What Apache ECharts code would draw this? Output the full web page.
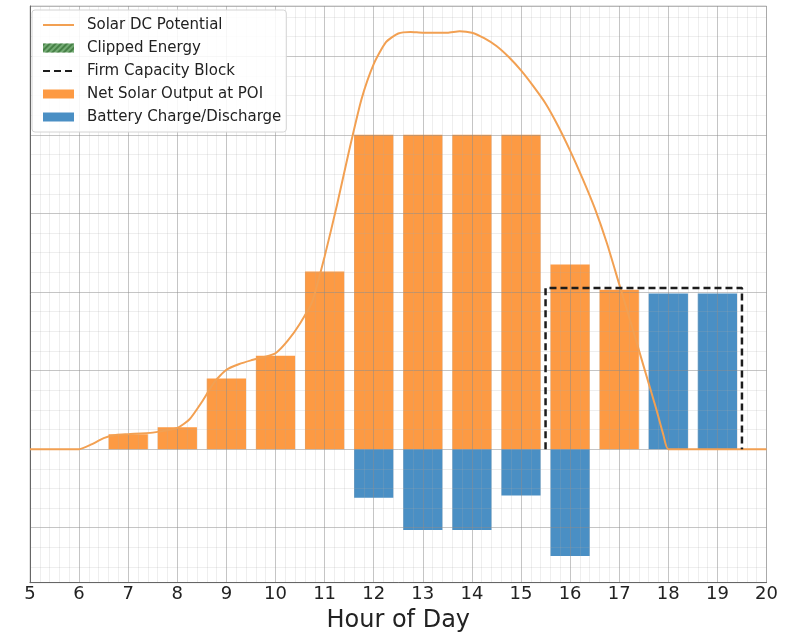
<!DOCTYPE html>
<html>
<head>
<meta charset="utf-8">
<script src="https://cdn.jsdelivr.net/npm/echarts@6/dist/echarts.min.js"></script>
<style>
  html, body { margin: 0; padding: 0; background: #ffffff; }
  #chart { width: 795px; height: 634px; }
</style>
</head>
<body>
<div id="chart"></div>
<script>
// Hour-of-day axis range
const hourTicks = [5, 6, 7, 8, 9, 10, 11, 12, 13, 14, 15, 16, 17, 18, 19, 20];

// Solar DC potential profile (hour, power in block units)
const solarHours  = [5.0, 5.5, 6.0, 6.25, 6.5, 6.75, 7.0, 7.5, 8.0, 8.25, 8.5, 8.75, 9.0, 9.25, 9.5, 9.75,
                     10.0, 10.25, 10.5, 10.75, 11.0, 11.25, 11.5, 11.75, 12.0, 12.25, 12.5, 12.75, 13.0,
                     13.5, 13.75, 14.0, 14.25, 14.5, 14.75, 15.0, 15.25, 15.5, 15.75, 16.0, 16.25, 16.5,
                     16.75, 17.0, 17.25, 17.5, 17.75, 17.9, 18.0, 18.5, 19.0, 19.5, 20.0];
const solarValues = [0, 0, 0, 0.06, 0.14, 0.18, 0.19, 0.21, 0.27, 0.38, 0.60, 0.85, 1.01, 1.08, 1.13, 1.17,
                     1.22, 1.38, 1.60, 1.88, 2.45, 3.10, 3.80, 4.45, 4.90, 5.18, 5.29, 5.31, 5.30,
                     5.30, 5.32, 5.30, 5.23, 5.13, 4.99, 4.82, 4.62, 4.40, 4.12, 3.80, 3.45, 3.07,
                     2.62, 2.10, 1.58, 1.05, 0.52, 0.18, 0, 0, 0, 0, 0];

// Net solar output delivered at the point of interconnection
const netHours  = [7, 8, 9, 10, 11, 12, 13, 14, 15, 16, 17];
const netValues = [0.19, 0.28, 0.90, 1.19, 2.26, 4.0, 4.0, 4.0, 4.0, 2.35, 2.03];

// Battery: negative = charging, positive = discharging
const batteryHours  = [12, 13, 14, 15, 16, 18, 19];
const batteryValues = [-0.62, -1.03, -1.03, -0.59, -1.36, 1.98, 1.98];

// Firm capacity block outline
const firmHours  = [15.5, 15.5, 19.5, 19.5];
const firmValues = [0, 2.05, 2.05, 0];

// Clipped energy (none in this profile)
const clippedHours = [];
const clippedValues = [];

const BAR_HALF = 0.4;
const zip = (xs, ys) => xs.map((x, i) => [x, ys[i]]);

function renderBar(params, api) {
  const x = api.value(0);
  const v = api.value(1);
  const a = api.coord([x - BAR_HALF, 0]);
  const b = api.coord([x + BAR_HALF, v]);
  return {
    type: 'rect',
    shape: {
      x: a[0],
      y: Math.min(a[1], b[1]),
      width: b[0] - a[0],
      height: Math.abs(b[1] - a[1])
    },
    style: api.style()
  };
}

const FONT = 'DejaVu Sans';
const majorGrid = { show: true, lineStyle: { color: 'rgba(140,140,140,0.5)', width: 1 } };
const minorGrid = { show: true, lineStyle: { color: 'rgba(170,170,170,0.2)', width: 1 } };

const chart = echarts.init(document.getElementById('chart'), null, { renderer: 'canvas' });
chart.setOption({
  backgroundColor: '#ffffff',
  animation: false,
  grid: {
    left: 30, right: 28.5, top: 6, bottom: 51.3,
    show: true, borderColor: '#c8c8c8', borderWidth: 1,
    containLabel: false, outerBoundsMode: 'none'
  },
  legend: {
    orient: 'vertical', left: 32, top: 10,
    itemWidth: 31, itemHeight: 9, itemGap: 7,
    padding: [7, 5, 7, 10],
    backgroundColor: 'rgba(255,255,255,0.85)',
    borderColor: '#d4d4d4', borderWidth: 1, borderRadius: 3,
    selectedMode: false,
    textStyle: { fontFamily: FONT, fontSize: 15, color: '#222', lineHeight: 16, padding: [0, 0, 0, 8] },
    data: [
      { name: 'Solar DC Potential', itemStyle: { opacity: 0 } },
      { name: 'Clipped Energy', icon: 'rect' },
      { name: 'Firm Capacity Block', itemStyle: { opacity: 0 } },
      { name: 'Net Solar Output at POI', icon: 'rect' },
      { name: 'Battery Charge/Discharge', icon: 'rect' }
    ]
  },
  xAxis: {
    type: 'value',
    min: hourTicks[0], max: hourTicks[hourTicks.length - 1], interval: 1,
    z: 3,
    name: 'Hour of Day', nameLocation: 'middle', nameGap: 23,
    nameTextStyle: { fontFamily: FONT, fontSize: 24, color: '#222', verticalAlign: 'top' },
    axisLine: { show: true, onZero: false, lineStyle: { color: '#666', width: 1 } },
    axisTick: { show: false },
    minorTick: { show: false, splitNumber: 5 },
    axisLabel: { fontFamily: FONT, fontSize: 18, color: '#222', margin: 3 },
    splitLine: majorGrid,
    minorSplitLine: minorGrid
  },
  yAxis: {
    type: 'value',
    min: -1.7, max: 5.64, minInterval: 1, maxInterval: 1, splitNumber: 7,
    z: 3,
    axisLine: { show: true, lineStyle: { color: '#666', width: 1 } },
    axisTick: { show: false },
    axisLabel: { show: false },
    minorTick: { show: false, splitNumber: 4 },
    splitLine: majorGrid,
    minorSplitLine: minorGrid
  },
  series: [
    {
      name: 'Net Solar Output at POI',
      type: 'custom',
      renderItem: renderBar,
      itemStyle: { color: '#fd9a43' },
      encode: { x: 0, y: 1 },
      data: zip(netHours, netValues),
      z: 2
    },
    {
      name: 'Battery Charge/Discharge',
      type: 'custom',
      renderItem: renderBar,
      itemStyle: { color: '#4a8fc4' },
      encode: { x: 0, y: 1 },
      data: zip(batteryHours, batteryValues),
      z: 2
    },
    {
      name: 'Clipped Energy',
      type: 'bar',
      data: zip(clippedHours, clippedValues),
      itemStyle: {
        color: '#74ab74',
        decal: {
          symbol: 'rect', symbolSize: 1,
          dashArrayX: [1, 0], dashArrayY: [2, 2],
          rotation: -Math.PI / 4, color: 'rgba(40,100,40,0.6)'
        }
      }
    },
    {
      name: 'Solar DC Potential',
      type: 'line',
      data: zip(solarHours, solarValues),
      smooth: 0.2,
      symbol: 'none',
      lineStyle: { color: '#f2a052', width: 2 },
      itemStyle: { color: '#f2a052' },
      z: 5
    },
    {
      name: 'Firm Capacity Block',
      type: 'line',
      data: zip(firmHours, firmValues),
      symbol: 'none',
      lineStyle: { color: '#1c1c1c', width: 2.5, type: [7, 4] },
      itemStyle: { color: '#1c1c1c' },
      z: 6
    }
  ]
});
</script>
</body>
</html>
